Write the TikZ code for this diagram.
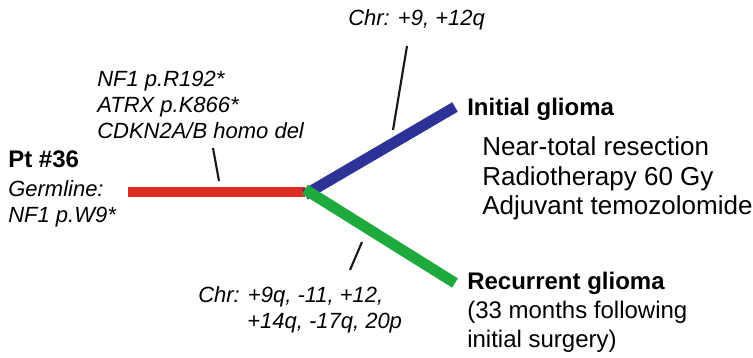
\documentclass[tikz,border=0pt]{standalone}
\usepackage{fontspec}
\setmainfont{Liberation Sans}
\definecolor{tred}{RGB}{224,45,35}
\definecolor{tblue}{RGB}{44,50,150}
\definecolor{tgreen}{RGB}{30,170,60}
\begin{document}
\begin{tikzpicture}[x=0.75pt,y=-0.75pt,
  branch/.style={line width=8.2pt},
  tick/.style={line width=1.6pt,black!90},
  mut/.style={font=\fontsize{16.5}{19.5}\selectfont\itshape,inner sep=0pt,anchor=base west,align=left},
  lbl/.style={font=\fontsize{18}{21.8}\selectfont\bfseries,inner sep=0pt,anchor=base west},
  note/.style={font=\fontsize{18}{21.8}\selectfont,inner sep=0pt,anchor=base west,align=left},
  tx/.style={font=\fontsize{19.5}{22.5}\selectfont,inner sep=0pt,anchor=base west,align=left}]
\useasboundingbox (0,0) rectangle (753,357);
% coordinates of tree
\coordinate (root) at (128,192);
\coordinate (fork) at (305,192);
\coordinate (tipA) at (455,107);
\coordinate (tipB) at (455,283);
\draw[branch,tred] (root) -- (fork);
\draw[branch,tblue] ([yshift=-2]fork) -- (tipA);
\draw[branch,tgreen] ([yshift=2]fork) -- (tipB);
% ticks
\coordinate (t1a) at (213,148); \coordinate (t1b) at (219,181);
\coordinate (t2a) at (407,46);  \coordinate (t2b) at (393,130);
\coordinate (t3a) at (362,242); \coordinate (t3b) at (350,270);
\draw[tick] (t1a) -- (t1b);
\draw[tick] (t2a) -- (t2b);
\draw[tick] (t3a) -- (t3b);
% left texts
\node[mut] (m1) at (97,86) {NF1 p.R192*};
\node[mut] (m2) at (97,112) {ATRX p.K866*};
\node[mut] (m3) at (97,138) {CDKN2A/B homo del};
\node[lbl] (pt) at (8,167) {Pt \#36};
\node[mut] (g1) at (8,196) {Germline:};
\node[mut] (g2) at (8,222) {NF1 p.W9*};
% chr texts
\node[mut] (c1) at (348,25) {Chr: +9, +12q};
\node[mut] (c2) at (198,302) {Chr: +9q, -11, +12,};
\node[mut] (c3) at (247,328) {+14q, -17q, 20p};
% right texts
\node[lbl] (ig) at (467,115) {Initial glioma};
\node[tx] (t1) at (482,155) {Near-total resection};
\node[tx] (t2) at (482,185) {Radiotherapy 60 Gy};
\node[tx] (t3) at (482,214) {Adjuvant temozolomide};
\node[lbl] (rg) at (467,289) {Recurrent glioma};
\node[note] (r1) at (467,318) {(33 months following};
\node[note] (r2) at (467,347) {initial surgery)};
\end{tikzpicture}
\end{document}
